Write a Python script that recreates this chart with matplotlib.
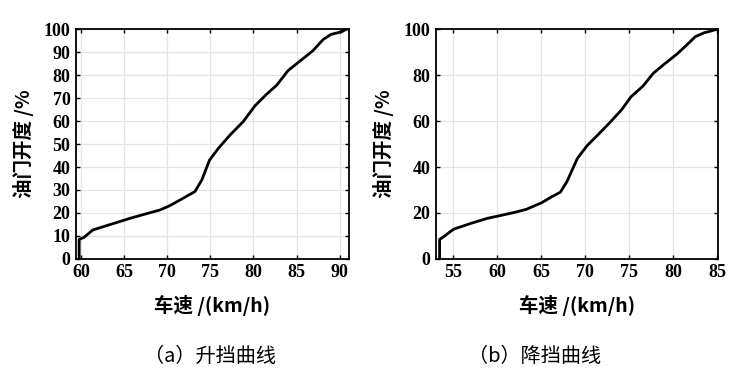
import matplotlib.pyplot as plt
import numpy as np

plt.rcParams['font.family'] = ['Liberation Serif', 'Noto Sans CJK SC', 'DejaVu Sans']

# (a) upshift curve: speed km/h vs throttle %
up_speed = [59.77, 59.77, 60.3, 61.35, 63.4, 65.7, 67.6, 69.15, 70.3, 71.5, 73.2,
            74.0, 74.9, 75.9, 77.3, 78.8, 80.15, 81.5, 82.7, 84.0, 85.4, 86.9,
            88.1, 89.0, 90.2, 90.8]
up_throttle = [0, 8.5, 9.3, 12.6, 15.0, 17.7, 19.7, 21.3, 23.2, 25.7, 29.3,
               34.3, 43.0, 48.0, 54.0, 59.7, 66.5, 71.6, 75.6, 81.9, 86.1, 90.6,
               95.5, 97.7, 98.8, 100]

# (b) downshift curve
down_speed = [53.43, 53.43, 53.9, 55.0, 57.0, 58.9, 60.25, 62.0, 63.3, 65.05, 66.2,
              67.15, 67.9, 69.1, 70.2, 71.4, 72.7, 74.1, 75.2, 76.55, 77.7, 79.05,
              80.4, 81.5, 82.5, 83.5, 84.2, 85.0]
down_throttle = [0, 8.5, 9.7, 12.9, 15.5, 17.7, 18.8, 20.3, 21.6, 24.5, 27.1,
                 29.0, 33.6, 43.8, 49.3, 53.9, 59.0, 64.8, 70.6, 75.2, 80.7, 85.0,
                 89.1, 93.0, 96.7, 98.4, 99.1, 100]

panels = [
    dict(x=up_speed, y=up_throttle, xlim=(59.4, 91.05), xticks=np.arange(60, 91, 5),
         yticks=np.arange(0, 101, 10), rect=[0.102, 0.315, 0.366, 0.608],
         caption="（a）升挡曲线", cap_x=0.282),
    dict(x=down_speed, y=down_throttle, xlim=(53.0, 85.1), xticks=np.arange(55, 86, 5),
         yticks=np.arange(0, 101, 20), rect=[0.585, 0.315, 0.379, 0.608],
         caption="（b）降挡曲线", cap_x=0.718),
]

cjk = ['Noto Sans CJK SC', 'DejaVu Sans']

fig = plt.figure(figsize=(7.45, 3.78), dpi=100)

for p in panels:
    ax = fig.add_axes(p["rect"])
    ax.plot(p["x"], p["y"], color="black", lw=2.0, solid_joinstyle="round")
    ax.set_xlim(*p["xlim"])
    ax.set_ylim(0, 100)
    ax.set_xticks(p["xticks"])
    ax.set_yticks(p["yticks"])
    ax.grid(color="#e4e4e4", lw=0.9)
    ax.set_axisbelow(True)
    ax.tick_params(direction="in", top=True, right=True, length=3, width=1.0,
                   labelsize=13, pad=4)
    for lab in ax.get_xticklabels() + ax.get_yticklabels():
        lab.set_fontweight("bold")
    for s in ax.spines.values():
        s.set_linewidth(1.3)
    ax.set_xlabel("车速 /(km/h)", fontsize=14, fontweight="bold", labelpad=10,
                  family=cjk)
    ax.set_ylabel("油门开度 /%", fontsize=14, fontweight="bold", labelpad=7,
                  family=cjk)
    fig.text(p["cap_x"], 0.058, p["caption"], ha="center", va="center", fontsize=14.5,
             family=cjk)

fig.savefig("out.png", dpi=100)
